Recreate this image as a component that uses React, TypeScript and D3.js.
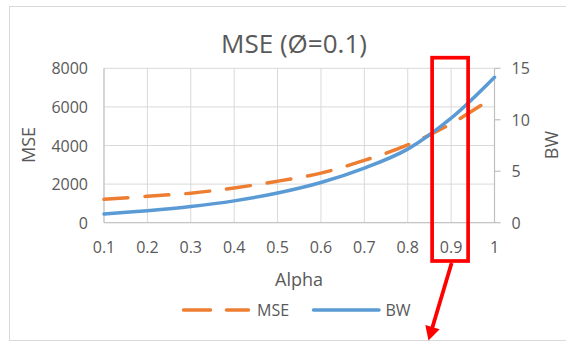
import React from "react";
import * as d3 from "d3";

const alpha = [0.1, 0.2, 0.3, 0.4, 0.5, 0.6, 0.7, 0.8, 0.9, 1.0];
const mseValues = [1210, 1370, 1530, 1800, 2150, 2570, 3230, 4030, 5130, 6530];
const bwValues = [0.85, 1.17, 1.57, 2.12, 2.88, 3.9, 5.3, 7.15, 10.15, 14.13];
const xTicks = [0.1, 0.2, 0.3, 0.4, 0.5, 0.6, 0.7, 0.8, 0.9, 1];
const leftTicks = [0, 2000, 4000, 6000, 8000];
const rightTicks = [0, 5, 10, 15];
const title = "MSE (Ø=0.1)";

const W = 566;
const H = 344;
const FONT = "'Open Sans', 'DejaVu Sans', sans-serif";
const GRAY = "#595959";
const GRID = "#d9d9d9";
const AXIS = "#bfbfbf";
const ORANGE = "#ED7D31";
const BLUE = "#5B9BD5";

export default function App() {
  const x = d3.scaleLinear().domain([0.1, 1]).range([104, 494.5]);
  const yL = d3.scaleLinear().domain([0, 8000]).range([222.7, 68.3]);
  const yR = d3.scaleLinear().domain([0, 15]).range([222.7, 68.3]);

  const mseLine = d3
    .line<number>()
    .x((_, i) => x(alpha[i]))
    .y((d) => yL(d))
    .curve(d3.curveCatmullRom.alpha(0.5));
  const bwLine = d3
    .line<number>()
    .x((_, i) => x(alpha[i]))
    .y((d) => yR(d))
    .curve(d3.curveCatmullRom.alpha(0.5));

  const fmtX = (v: number) => (v === 1 ? "1" : d3.format(".1f")(v));

  // annotation around alpha = 0.9
  const bx0 = x(0.9) - 19;
  const bx1 = x(0.9) + 17;
  const by0 = 57.7;
  const by1 = 261;
  const ax0 = x(0.9) + 0.5;
  const ay0 = by1 + 2;
  const tipX = 428.5;
  const tipY = 340.5;
  const dx = tipX - ax0;
  const dy = tipY - ay0;
  const len = Math.sqrt(dx * dx + dy * dy);
  const ux = dx / len;
  const uy = dy / len;
  const headL = 14;
  const headW = 7.5;
  const bcx = tipX - ux * headL;
  const bcy = tipY - uy * headL;
  const head = `${tipX},${tipY} ${bcx - uy * headW},${bcy + ux * headW} ${bcx + uy * headW},${bcy - ux * headW}`;

  return (
    <svg
      width={W}
      height={H}
      style={{ position: "absolute", left: 0, top: 0, background: "#fff" }}
      fontFamily={FONT}
    >
      <rect x={0} y={0} width={W} height={H} fill="#fff" />
      <rect x={9.5} y={6.5} width={W + 10} height={334} fill="none" stroke={GRID} strokeWidth={1} />

      {/* title */}
      <text x={294} y={53.3} textAnchor="middle" fontSize={26} fill={GRAY}>
        {title}
      </text>

      {/* horizontal gridlines */}
      {leftTicks.map((t) => (
        <line key={"h" + t} x1={x(0.1)} x2={x(1)} y1={yL(t)} y2={yL(t)} stroke={GRID} strokeWidth={1} />
      ))}
      {/* vertical gridlines */}
      {xTicks.map((t) => (
        <line key={"v" + t} x1={x(t)} x2={x(t)} y1={yL(8000)} y2={yL(0)} stroke={GRID} strokeWidth={1} />
      ))}
      {/* axes */}
      <line x1={x(0.1)} x2={x(0.1)} y1={yL(8000)} y2={yL(0)} stroke={AXIS} strokeWidth={1} />
      <line x1={x(0.1)} x2={x(1)} y1={yL(0)} y2={yL(0)} stroke={AXIS} strokeWidth={1} />
      <line x1={x(1)} x2={x(1)} y1={yR(15)} y2={yR(0)} stroke={AXIS} strokeWidth={1.2} />
      {rightTicks.map((t) => (
        <line key={"rt" + t} x1={x(1)} x2={x(1) + 6} y1={yR(t)} y2={yR(t)} stroke={AXIS} strokeWidth={1.2} />
      ))}

      {/* left tick labels */}
      {leftTicks.map((t) => (
        <text key={"lt" + t} x={88} y={yL(t) + 6} textAnchor="end" fontSize={16} fill={GRAY}>
          {t}
        </text>
      ))}
      {/* right tick labels */}
      {rightTicks.map((t) => (
        <text key={"rl" + t} x={511.5} y={yR(t) + 6} textAnchor="start" fontSize={16} fill={GRAY}>
          {t}
        </text>
      ))}
      {/* x tick labels */}
      {xTicks.map((t) => (
        <text key={"xt" + t} x={x(t)} y={252.7} textAnchor="middle" fontSize={16} fill={GRAY}>
          {fmtX(t)}
        </text>
      ))}

      {/* axis titles */}
      <text x={299} y={285.5} textAnchor="middle" fontSize={18} fill={GRAY}>
        Alpha
      </text>
      <text transform="translate(34.5,145) rotate(-90)" textAnchor="middle" fontSize={18} fill={GRAY}>
        MSE
      </text>
      <text transform="translate(557.5,145) rotate(-90)" textAnchor="middle" fontSize={18} fill={GRAY}>
        BW
      </text>

      {/* series */}
      <path
        d={mseLine(mseValues) || ""}
        fill="none"
        stroke={ORANGE}
        strokeWidth={3.5}
        strokeDasharray="24 17"
        strokeLinecap="round"
      />
      <path d={bwLine(bwValues) || ""} fill="none" stroke={BLUE} strokeWidth={3.5} strokeLinecap="round" />

      {/* legend */}
      <line x1={183.5} x2={248.5} y1={310} y2={310} stroke={ORANGE} strokeWidth={3.5} strokeDasharray="27 16" strokeLinecap="round" />
      <text x={257} y={316} fontSize={16} fill={GRAY}>
        MSE
      </text>
      <line x1={313.5} x2={379} y1={310} y2={310} stroke={BLUE} strokeWidth={3.5} strokeLinecap="round" />
      <text x={385.5} y={316} fontSize={16} fill={GRAY}>
        BW
      </text>

      {/* annotation */}
      <rect x={bx0} y={by0} width={bx1 - bx0} height={by1 - by0} fill="none" stroke="#ff0000" strokeWidth={3.7} />
      <line x1={ax0} y1={ay0} x2={bcx + ux * 2} y2={bcy + uy * 2} stroke="#ff0000" strokeWidth={3.8} />
      <polygon points={head} fill="#ff0000" />
    </svg>
  );
}
